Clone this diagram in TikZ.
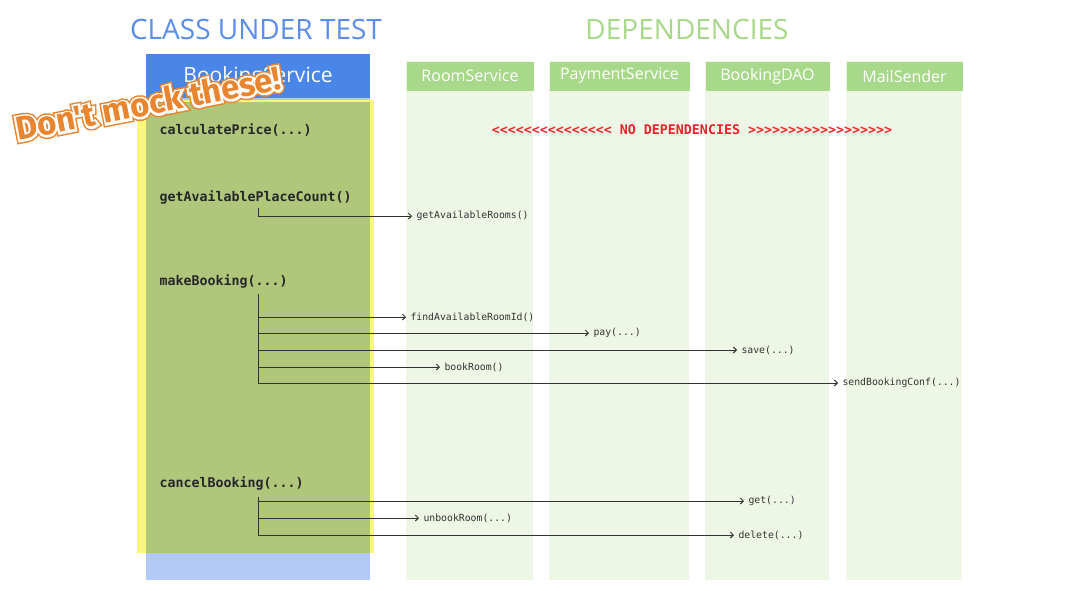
\documentclass[tikz,border=0pt]{standalone}
\usepackage{fontspec}
\setmainfont{Open Sans}
\setmonofont{DejaVu Sans Mono}
\newfontfamily\mockfont{Fira Sans}[UprightFont=* Bold]
\newfontfamily\mockring{Fira Sans}[UprightFont=* Bold,FakeBold=13]
\newfontfamily\mockedge{Fira Sans}[UprightFont=* Bold,FakeBold=22]
\usetikzlibrary{positioning,arrows.meta}

\definecolor{titleblue}{HTML}{5B8DEB}
\definecolor{headblue}{HTML}{4A86E8}
\definecolor{paleblue}{HTML}{B2C8F7}
\definecolor{cutgreen}{HTML}{AFC67B}
\definecolor{glowyellow}{HTML}{F9F77E}
\definecolor{depgreen}{HTML}{A8D88A}
\definecolor{depbody}{HTML}{EEF7E6}
\definecolor{nodepred}{HTML}{E5242B}
\definecolor{mockorange}{HTML}{E8852E}
\definecolor{wire}{HTML}{333333}

\begin{document}
\begin{tikzpicture}[x=1pt,y=-1pt,>={Straight Barb[length=3pt,width=6pt]},
  title/.style={font=\fontsize{28}{32}\selectfont},
  dephead/.style={fill=depgreen,text=white,font=\fontsize{16}{19}\selectfont,
    minimum height=29pt,anchor=north west,inner sep=0pt},
  code/.style={font=\ttfamily\bfseries\fontsize{13.3}{15}\selectfont,
    anchor=west,inner sep=0pt,text=black!85},
  call/.style={font=\ttfamily\fontsize{9.8}{11}\selectfont,
    anchor=west,inner sep=0pt,inner xsep=4pt,text=black!80},
  mock/.style={rotate=11,font=\fontsize{33}{37}\selectfont},
  every path/.style={line width=1pt},
  wire/.style={draw=wire}]
\useasboundingbox[fill=white] (0,0) rectangle (1082,590);

% titles
\node[title,text=titleblue] (cut) at (256,29) {CLASS UNDER TEST};
\node[title,text=depgreen] (deps) at (687,29) {DEPENDENCIES};

% class under test column
\fill[paleblue] (146,54) rectangle (370,580);
\fill[headblue] (146,54) rectangle (370,98);
\node[text=white,font=\fontsize{21}{24}\selectfont] (booking) at (258,77) {BookingService};
\fill[glowyellow] (137,100) rectangle (374,553);
\fill[cutgreen] (146,102) rectangle (370,553);

% dependency columns
\fill[depbody] (406,61) rectangle (533,580);
\fill[depbody] (549,61) rectangle (689,580);
\fill[depbody] (705,61) rectangle (829,580);
\fill[depbody] (846,61) rectangle (962,580);
\node[dephead,minimum width=127pt] (room) at (406,61) {RoomService};
\node[dephead,minimum width=140pt] (payment) at (549,61) {PaymentService};
\node[dephead,minimum width=124pt] (dao) at (705,61) {BookingDAO};
\node[dephead,minimum width=116pt] (mail) at (846,61) {MailSender};

% methods
\node[code] (price) at (159,130) {calculatePrice(...)};
\node[code] (count) at (159,197) {getAvailablePlaceCount()};
\node[code] (make) at (159,281) {makeBooking(...)};
\node[code] (cancel) at (159,483) {cancelBooking(...)};

\node[font=\ttfamily\bfseries\fontsize{13.3}{15}\selectfont,text=nodepred] (none) at (692,130)
  {<<<<<<<<<<<<<<< NO DEPENDENCIES >>>>>>>>>>>>>>>>>>};

% calls
\coordinate (gapc) at (258,208);
\node[call] (rooms) at (412,216) {getAvailableRooms()};
\draw[wire,->] (gapc) |- (rooms.west);

\coordinate (mbtop) at (258,294);
\node[call] (find) at (406,317) {findAvailableRoomId()};
\node[call] (pay) at (589,333) {pay(...)};
\node[call] (save) at (737,350) {save(...)};
\node[call] (book) at (440,367) {bookRoom()};
\node[call] (send) at (838,383) {sendBookingConf(...)};
\draw[wire,->] (mbtop) |- (send.west);
\draw[wire,->] (mbtop |- find.west) -- (find.west);
\draw[wire,->] (mbtop |- pay.west) -- (pay.west);
\draw[wire,->] (mbtop |- save.west) -- (save.west);
\draw[wire,->] (mbtop |- book.west) -- (book.west);

\coordinate (cbtop) at (258,497);
\node[call] (get) at (744,501) {get(...)};
\node[call] (unbook) at (419,518) {unbookRoom(...)};
\node[call] (delete) at (734,535) {delete(...)};
\draw[wire,->] (cbtop) |- (delete.west);
\draw[wire,->] (cbtop |- get.west) -- (get.west);
\draw[wire,->] (cbtop |- unbook.west) -- (unbook.west);

% sticker
\node[mock,text=mockorange] (mock) at (148,103) {\mockedge Don't mock these!};
\node[mock,text=white] (mockmid) at (mock) {\mockring Don't mock these!};
\node[mock,text=mockorange] (mocktop) at (mock) {\mockfont Don't mock these!};
\end{tikzpicture}
\end{document}
